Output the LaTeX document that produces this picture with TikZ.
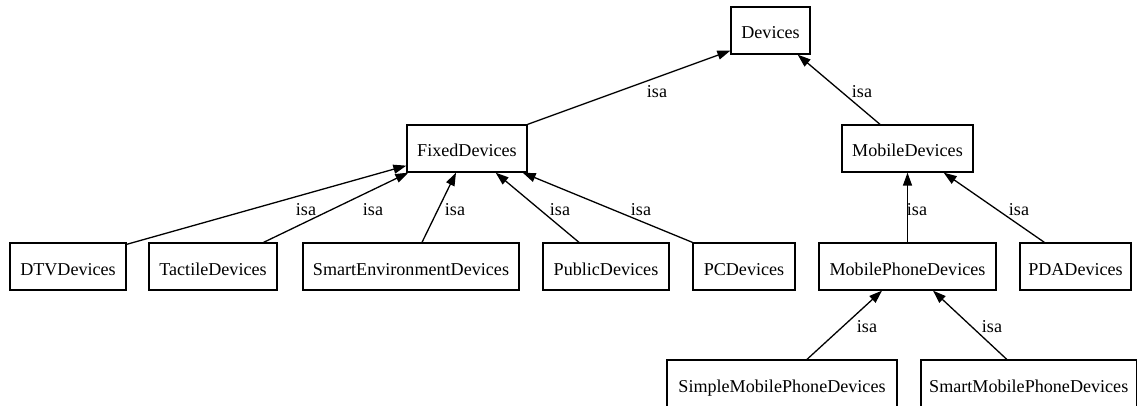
\documentclass[tikz,border=0pt]{standalone}
\usepackage{fontspec}
\setmainfont{Liberation Serif}
\usetikzlibrary{arrows.meta}

\tikzset{
  cls/.style={draw, line width=1.3pt, inner sep=0pt, minimum height=47pt,
              text height=17pt, text depth=0pt,
              font=\fontsize{18.1}{21}\selectfont},
  isaedge/.style={line width=1.3pt, -{Triangle[length=13pt,width=9pt]}},
  lbl/.style={inner sep=0pt, font=\fontsize{18.1}{21}\selectfont}
}

\begin{document}
\begin{tikzpicture}[x=1pt, y=-1pt]
  \path[use as bounding box, clip] (0,0) rectangle (1137,406);

  % class boxes
  \node[cls, minimum width=79pt]  (dev)      at (770.5,30.5)  {Devices};
  \node[cls, minimum width=120pt] (fixed)    at (467,148.5)   {FixedDevices};
  \node[cls, minimum width=131pt] (mobile)   at (907.5,148.5) {MobileDevices};
  \node[cls, minimum width=116pt] (dtv)      at (68,266.5)    {DTVDevices};
  \node[cls, minimum width=128pt] (tactile)  at (213,266.5)   {TactileDevices};
  \node[cls, minimum width=216pt] (smartenv) at (411,266.5)   {SmartEnvironmentDevices};
  \node[cls, minimum width=126pt] (public)   at (606,266.5)   {PublicDevices};
  \node[cls, minimum width=102pt] (pc)       at (744,266.5)   {PCDevices};
  \node[cls, minimum width=177pt] (mphone)   at (907.5,266.5) {MobilePhoneDevices};
  \node[cls, minimum width=111pt] (pda)      at (1075.5,266.5){PDADevices};
  \node[cls, minimum width=230pt] (simple)   at (782,383.5)   {SimpleMobilePhoneDevices};
  \node[cls, minimum width=215.5pt] (smart)  at (1028.75,383.5){SmartMobilePhoneDevices};

  % isa relations
  \draw[isaedge] (fixed.north east) -- ([yshift=4pt]dev.south west);
  \draw[isaedge] ([xshift=-27.5pt]mobile.north) -- ([xshift=-13pt]dev.south east);
  \draw[isaedge] ([yshift=-2pt]dtv.north east) -- ([yshift=7pt]fixed.south west);
  \draw[isaedge] ([xshift=-14pt]tactile.north east) -- ([xshift=2pt]fixed.south west);
  \draw[isaedge] ([xshift=11pt]smartenv.north) -- ([xshift=-11pt]fixed.south);
  \draw[isaedge] ([xshift=-27pt]public.north) -- ([xshift=-32pt]fixed.south east);
  \draw[isaedge] (pc.north west) -- ([xshift=-5pt]fixed.south east);
  \draw[isaedge] (mphone.north) -- (mobile.south);
  \draw[isaedge] ([xshift=25pt]pda.north west) -- ([xshift=-30pt]mobile.south east);
  \draw[isaedge] ([xshift=25pt]simple.north) -- ([xshift=-25.5pt]mphone.south);
  \draw[isaedge] ([xshift=-22pt]smart.north) -- ([xshift=25.5pt]mphone.south);

  % edge labels
  \node[lbl] (l1)  at (657,92)  {isa};
  \node[lbl] (l2)  at (862,92)  {isa};
  \node[lbl] (l3)  at (306,210) {isa};
  \node[lbl] (l4)  at (373,210) {isa};
  \node[lbl] (l5)  at (455,210) {isa};
  \node[lbl] (l6)  at (560,210) {isa};
  \node[lbl] (l7)  at (641,210) {isa};
  \node[lbl] (l8)  at (917,210) {isa};
  \node[lbl] (l9)  at (1019,210){isa};
  \node[lbl] (l10) at (867,327) {isa};
  \node[lbl] (l11) at (992,327) {isa};
\end{tikzpicture}
\end{document}
